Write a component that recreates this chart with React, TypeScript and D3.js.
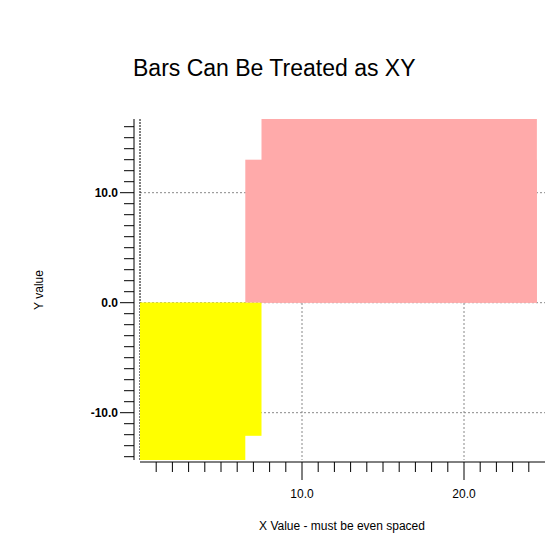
import React from "react";
import * as d3 from "d3";

const barX0 = [6.5, 7.5, 0, 0];
const barX1 = [24.5, 24.5, 7.5, 6.5];
const barY = [13, 17, -12.1, -15];
const barColors = ["#ffaaaa", "#ffaaaa", "#ffff00", "#ffff00"];
const majorTicks = [-10, 0, 10];
const xMajor = [10, 20];

export default function App() {
  const W = 560, H = 560;
  const L = 140, R = 545, T = 119, B = 460;
  const x = d3.scaleLinear().domain([0, 25]).range([L, R]);
  const y = d3.scaleLinear().domain([-14.3, 16.7]).range([B, T]);
  const yMinor = d3.range(-14, 17, 1);
  const xMinor = d3.range(1, 25, 1);
  const axX = 134;
  const axY = 462;
  return (
    <svg width={W} height={H} style={{ position: "absolute", left: 0, top: 0 }} fontFamily="Liberation Sans, Arial, sans-serif">
      <defs>
        <clipPath id="plot"><rect x={L} y={T} width={R - L} height={B - T} /></clipPath>
      </defs>
      <text x={133} y={76} fontSize={23}>Bars Can Be Treated as XY</text>
      {majorTicks.map(v => (
        <line key={"gy" + v} x1={L} x2={R} y1={y(v)} y2={y(v)} stroke="#888" strokeDasharray="2,2" />
      ))}
      {xMajor.map(v => (
        <line key={"gx" + v} x1={x(v)} x2={x(v)} y1={T} y2={B} stroke="#888" strokeDasharray="2,2" />
      ))}
      <line x1={L} x2={L} y1={T} y2={B} stroke="#000" strokeDasharray="2,1" />
      <g clipPath="url(#plot)">
        {barY.map((v, i) => (
          <rect key={i} x={x(barX0[i])} width={x(barX1[i]) - x(barX0[i])}
            y={Math.min(y(v), y(0))} height={Math.abs(y(v) - y(0))} fill={barColors[i]} />
        ))}
      </g>
      <line x1={axX} x2={axX} y1={T} y2={B} stroke="#000" />
      {yMinor.map(v => (
        <line key={"ty" + v} x1={axX} x2={majorTicks.includes(v) ? axX - 14 : axX - 10} y1={y(v)} y2={y(v)} stroke="#000" />
      ))}
      {majorTicks.map(v => (
        <text key={"ly" + v} x={axX - 16} y={y(v) + 4} fontSize={12} fontWeight="bold" textAnchor="end">{v.toFixed(1)}</text>
      ))}
      <line x1={L} x2={R} y1={axY} y2={axY} stroke="#000" />
      {xMinor.map(v => (
        <line key={"tx" + v} x1={x(v)} x2={x(v)} y1={axY} y2={xMajor.includes(v) ? axY + 18 : axY + 10} stroke="#000" />
      ))}
      {xMajor.map(v => (
        <text key={"lx" + v} x={x(v)} y={498} fontSize={12} textAnchor="middle">{v.toFixed(1)}</text>
      ))}
      <text x={342} y={530} fontSize={12} textAnchor="middle">X Value - must be even spaced</text>
      <text transform={`translate(43,290) rotate(-90)`} fontSize={12} textAnchor="middle">Y value</text>
    </svg>
  );
}
